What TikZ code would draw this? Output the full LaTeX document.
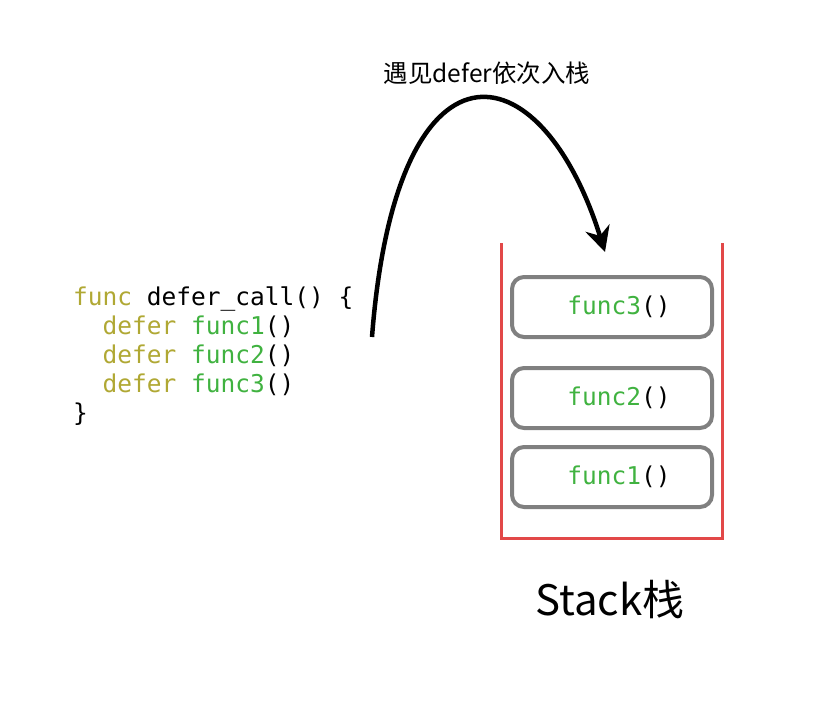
\documentclass[tikz,border=0pt]{standalone}
\usepackage{fontspec}
\setmonofont{DejaVu Sans Mono}
\newfontfamily\cjk{Noto Sans CJK SC}
\usetikzlibrary{arrows.meta}
\definecolor{kwolive}{RGB}{176,168,52}
\definecolor{fngreen}{RGB}{64,178,64}
\definecolor{stackred}{RGB}{226,72,72}
\definecolor{framegray}{RGB}{128,128,128}
\newcommand{\kw}[1]{\textcolor{kwolive}{#1}}
\newcommand{\fn}[1]{\textcolor{fngreen}{#1}}
\tikzset{
	codeline/.style={anchor=base west, inner sep=0pt,
		font=\ttfamily\fontsize{24.5}{29}\selectfont},
	framebox/.style={draw=framegray, line width=4pt, rounded corners=12pt,
		minimum width=200pt, minimum height=60pt,
		font=\ttfamily\fontsize{24.5}{29}\selectfont}
}

\begin{document}
\begin{tikzpicture}[x=1pt,y=1pt,yscale=-1,xscale=1]
\useasboundingbox (0,0) rectangle (832,723);

% code on the left
\node [codeline] (l1) at (73,305) {\kw{func} defer\_call() \{};
\node [codeline] (l2) at (73,334) {\ \ \kw{defer} \fn{func1}()};
\node [codeline] (l3) at (73,363) {\ \ \kw{defer} \fn{func2}()};
\node [codeline] (l4) at (73,392) {\ \ \kw{defer} \fn{func3}()};
\node [codeline] (l5) at (73,421) {\}};

% the stack
\draw [stackred, line width=3pt] (501,243) -- (501,538) -- (722,538) -- (722,243);
\node [framebox] (f3) at (612,307) {\hspace{14pt}\fn{func3}()};
\node [framebox] (f2) at (612,398) {\hspace{14pt}\fn{func2}()};
\node [framebox] (f1) at (612,477) {\hspace{14pt}\fn{func1}()};
\node (stk) at (610,600) {\cjk\fontsize{42}{48}\selectfont Stack栈};

% push arrow
\coordinate (from) at (372,337);
\coordinate (to) at (605,252);
\draw [line width=4.5pt, -{Stealth[length=25pt,width=25pt]}] (from) .. controls (396,25) and (540,45) .. (to);
\node (push) at (487,73) {\cjk\fontsize{24.5}{29}\selectfont 遇见defer依次入栈};

\end{tikzpicture}
\end{document}
